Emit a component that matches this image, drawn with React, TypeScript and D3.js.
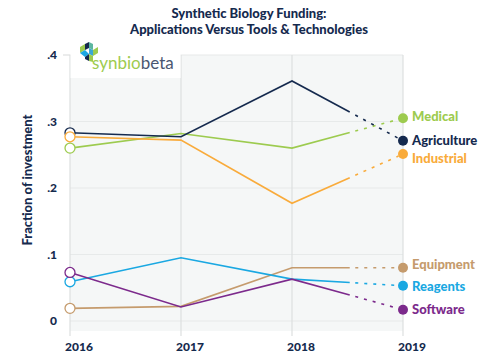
import React from "react";
import * as d3 from "d3";

const years = ["2016", "2017", "2018", "2019"];
const yTicks = [0, 0.1, 0.2, 0.3, 0.4];
const yTickLabels = ["0", ".1", ".2", ".3", ".4"];
const seriesNames = ["Medical", "Agriculture", "Industrial", "Equipment", "Reagents", "Software"];
const medical = [0.26, 0.282, 0.26, 0.305];
const agriculture = [0.283, 0.277, 0.361, 0.271];
const industrial = [0.277, 0.272, 0.177, 0.251];
const equipment = [0.019, 0.022, 0.08, 0.08];
const reagents = [0.059, 0.095, 0.063, 0.053];
const software = [0.073, 0.021, 0.063, 0.017];
const seriesValues = [medical, agriculture, industrial, equipment, reagents, software];
const seriesColors = ["#9dcb4f", "#152a4e", "#f9ab3b", "#c59b6d", "#1aa8e2", "#7c2a8c"];
const labelOffsets = [-2, 0, 4, -3, 1, 0];

const W = 484, H = 360;
const navy = "#152a4e";
const font = "Lato, 'Open Sans', sans-serif";

export default function App() {
  const x = d3.scalePoint<string>().domain(years).range([70, 403]);
  const y = d3.scaleLinear().domain([0, 0.4]).range([321, 55]);
  const line = d3.line<[number, number]>().x(d => d[0]).y(d => d[1]);

  return (
    <svg width={W} height={H} style={{ position: "absolute", left: 0, top: 0, background: "#fff" }} fontFamily={font}>
      <rect x={70} y={55} width={333} height={276} fill="#f5f7f7" />
      {yTicks.map((t, i) => (
        <line key={"h" + i} x1={70} x2={403} y1={y(t)} y2={y(t)} stroke="#e7eaea" strokeWidth={1.2} />
      ))}
      {years.map(yr => (
        <line key={"v" + yr} x1={x(yr)} x2={x(yr)} y1={55} y2={336} stroke="#dde0e0" strokeWidth={1.2} />
      ))}
      <line x1={63} x2={70} y1={y(0.4)} y2={y(0.4)} stroke="#dde0e0" strokeWidth={1.2} />
      {/* logo box */}
      <rect x={70.6} y={40} width={110} height={38} fill="#fff" />
      <g transform="translate(80,42)">
        <polygon points="0,5 5,2 5,8 0,11" fill="#9dcb4f" />
        <polygon points="5,2 9,0 9,6 5,8" fill="#152a4e" />
        <polygon points="9,6 13,8 13,14 9,12" fill="#3aa7d6" />
        <polygon points="13,8 18,5 18,11 13,14" fill="#9dcb4f" />
        <polygon points="0,11 5,8 9,12 5,15" fill="#1aa8e2" />
        <polygon points="5,15 9,12 9,19 5,17" fill="#152a4e" />
        <polygon points="9,12 13,14 13,20 9,19" fill="#9dcb4f" />
        <polygon points="9,0 13,2 13,8 9,6" fill="#5cb6a0" />
      </g>
      <text x={92} y={69} fontSize={17} fontWeight={400} fill="#9dcb4f" fontFamily="Lato, 'Open Sans', sans-serif">
        synbio<tspan fill="#4a5670">beta</tspan>
      </text>

      {seriesValues.map((vals, si) => {
        const pts: [number, number][] = vals.map((v, i) => [x(years[i]) as number, y(v)]);
        const a = pts[2], b = pts[3];
        const lerp = (t: number): [number, number] => [a[0] + (b[0] - a[0]) * t, a[1] + (b[1] - a[1]) * t];
        const color = seriesColors[si];
        return (
          <g key={seriesNames[si]}>
            <path d={line([pts[0], pts[1], pts[2], lerp(0.52)]) || ""} fill="none" stroke={color} strokeWidth={1.6} />
            <path d={line([lerp(0.57), lerp(0.96)]) || ""} fill="none" stroke={color} strokeWidth={1.6} strokeDasharray="3,6" />
            <circle cx={pts[0][0]} cy={pts[0][1]} r={5} fill="#fff" stroke={color} strokeWidth={1.3} />
            <circle cx={pts[3][0]} cy={pts[3][1]} r={5} fill={color} />
            <text x={412} y={pts[3][1] + labelOffsets[si]} dy="0.35em" fontSize={13} fontWeight={900} fill={color}>
              {seriesNames[si]}
            </text>
          </g>
        );
      })}

      {yTicks.map((t, i) => (
        <text key={"yl" + i} x={57} y={y(t)} dy="0.35em" textAnchor="end" fontSize={12} fontWeight={900} fill={navy}>
          {yTickLabels[i]}
        </text>
      ))}
      {years.map(yr => (
        <text key={"xl" + yr} x={(x(yr) as number) + 9} y={351} textAnchor="middle" fontSize={12} fontWeight={900} fill={navy}>
          {yr}
        </text>
      ))}
      <text transform="translate(32,180) rotate(-90)" textAnchor="middle" fontSize={13} fontWeight={900} fill={navy}>
        Fraction of investment
      </text>
      <text x={249} y={18} textAnchor="middle" fontSize={13} fontWeight={900} fill={navy}>
        Synthetic Biology Funding:
      </text>
      <text x={249} y={34} textAnchor="middle" fontSize={13} fontWeight={900} fill={navy}>
        Applications Versus Tools &amp; Technologies
      </text>
    </svg>
  );
}
